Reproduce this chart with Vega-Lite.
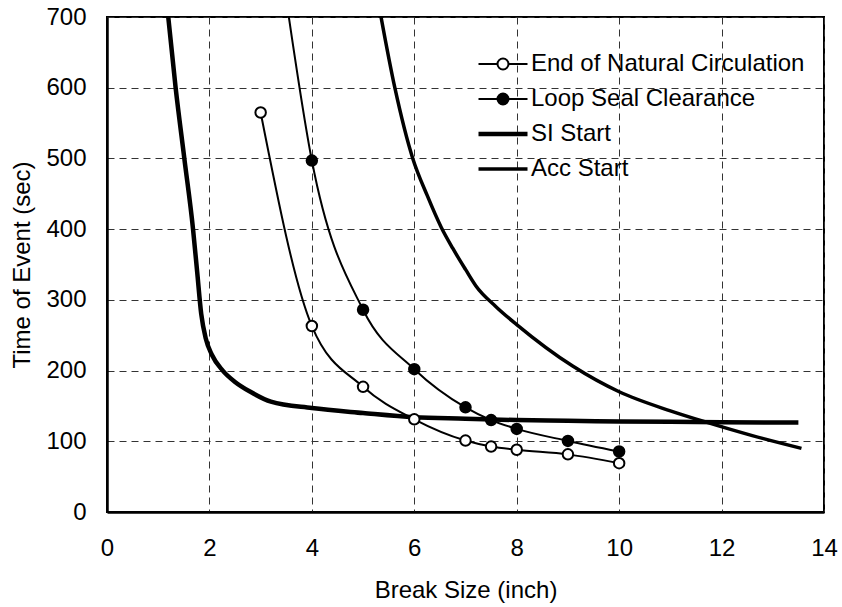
{
  "$schema": "https://vega.github.io/schema/vega-lite/v6.json",
  "autosize": {"type": "none"},
  "padding": {"left": 107, "top": 17, "right": 18, "bottom": 95},
  "width": 717,
  "height": 495,
  "background": "white",
  "config": {
    "font": "Liberation Sans",
    "view": {"stroke": "black", "strokeWidth": 2},
    "axis": {
      "domainColor": "black", "domainWidth": 2.5,
      "grid": true, "gridColor": "#333", "gridWidth": 1, "gridDash": [7, 5],
      "ticks": false, "labelFlush": false,
      "labelFont": "Liberation Sans", "labelFontSize": 24, "labelColor": "black",
      "titleFont": "Liberation Sans", "titleFontSize": 24, "titleColor": "black", "titleFontWeight": "normal"
    }
  },
  "data": {"values": [
    {"series": "End of Natural Circulation", "brk": 3, "time": 565},
    {"series": "End of Natural Circulation", "brk": 4, "time": 263},
    {"series": "End of Natural Circulation", "brk": 5, "time": 177},
    {"series": "End of Natural Circulation", "brk": 6, "time": 131},
    {"series": "End of Natural Circulation", "brk": 7, "time": 101},
    {"series": "End of Natural Circulation", "brk": 7.5, "time": 92.5},
    {"series": "End of Natural Circulation", "brk": 8, "time": 88},
    {"series": "End of Natural Circulation", "brk": 9, "time": 81.5},
    {"series": "End of Natural Circulation", "brk": 10, "time": 69},
    {"series": "Loop Seal Clearance", "brk": 3.5, "time": 725},
    {"series": "Loop Seal Clearance", "brk": 4, "time": 497},
    {"series": "Loop Seal Clearance", "brk": 5, "time": 286},
    {"series": "Loop Seal Clearance", "brk": 6, "time": 202},
    {"series": "Loop Seal Clearance", "brk": 7, "time": 148},
    {"series": "Loop Seal Clearance", "brk": 7.5, "time": 130},
    {"series": "Loop Seal Clearance", "brk": 8, "time": 117.5},
    {"series": "Loop Seal Clearance", "brk": 9, "time": 100.5},
    {"series": "Loop Seal Clearance", "brk": 10, "time": 85.5},
    {"series": "SI Start", "brk": 1.16, "time": 725},
    {"series": "SI Start", "brk": 1.34, "time": 600},
    {"series": "SI Start", "brk": 1.51, "time": 500},
    {"series": "SI Start", "brk": 1.68, "time": 400},
    {"series": "SI Start", "brk": 1.76, "time": 340},
    {"series": "SI Start", "brk": 1.84, "time": 280},
    {"series": "SI Start", "brk": 1.93, "time": 245},
    {"series": "SI Start", "brk": 2.05, "time": 222},
    {"series": "SI Start", "brk": 2.26, "time": 200},
    {"series": "SI Start", "brk": 2.5, "time": 184},
    {"series": "SI Start", "brk": 2.8, "time": 170},
    {"series": "SI Start", "brk": 3.2, "time": 156},
    {"series": "SI Start", "brk": 4, "time": 147},
    {"series": "SI Start", "brk": 5, "time": 140},
    {"series": "SI Start", "brk": 6, "time": 134},
    {"series": "SI Start", "brk": 7, "time": 132},
    {"series": "SI Start", "brk": 8, "time": 130},
    {"series": "SI Start", "brk": 9, "time": 129},
    {"series": "SI Start", "brk": 10, "time": 128},
    {"series": "SI Start", "brk": 11, "time": 127.5},
    {"series": "SI Start", "brk": 12, "time": 127},
    {"series": "SI Start", "brk": 13.5, "time": 126.5},
    {"series": "Acc Start", "brk": 5.3, "time": 720},
    {"series": "Acc Start", "brk": 5.62, "time": 600},
    {"series": "Acc Start", "brk": 5.97, "time": 500},
    {"series": "Acc Start", "brk": 6.25, "time": 448},
    {"series": "Acc Start", "brk": 6.53, "time": 402},
    {"series": "Acc Start", "brk": 6.75, "time": 373},
    {"series": "Acc Start", "brk": 7.0, "time": 343},
    {"series": "Acc Start", "brk": 7.2, "time": 320},
    {"series": "Acc Start", "brk": 7.6, "time": 290},
    {"series": "Acc Start", "brk": 8, "time": 265},
    {"series": "Acc Start", "brk": 9.1, "time": 206},
    {"series": "Acc Start", "brk": 10, "time": 170},
    {"series": "Acc Start", "brk": 11, "time": 143},
    {"series": "Acc Start", "brk": 11.7, "time": 127},
    {"series": "Acc Start", "brk": 12.6, "time": 108},
    {"series": "Acc Start", "brk": 13.56, "time": 90}
  ]},
  "encoding": {
    "x": {"field": "brk", "type": "quantitative",
      "scale": {"domain": [0, 14], "nice": false, "zero": false},
      "axis": {"values": [0, 2, 4, 6, 8, 10, 12, 14], "title": "Break Size (inch)", "labelPadding": 24, "titleBaseline": "alphabetic", "titleY": 85}},
    "y": {"field": "time", "type": "quantitative",
      "scale": {"domain": [0, 700], "nice": false},
      "axis": {"values": [0, 100, 200, 300, 400, 500, 600, 700], "title": "Time of Event (sec)", "labelPadding": 21, "titleBaseline": "alphabetic", "titleX": -78}}
  },
  "layer": [
    {
      "mark": {"type": "line", "interpolate": "monotone", "clip": true},
      "encoding": {
        "stroke": {"field": "series", "type": "nominal",
          "scale": {"domain": ["End of Natural Circulation", "Loop Seal Clearance", "SI Start", "Acc Start"], "range": ["black", "black", "black", "black"]},
          "legend": {
            "title": null, "orient": "none", "legendX": 384, "legendY": 35, "padding": 0,
            "labelFont": "Liberation Sans", "labelFontSize": 24, "labelColor": "black", "labelOffset": 16, "labelLimit": 400,
            "rowPadding": 11, "symbolSize": 100,
            "encode": {"symbols": {"update": {
              "shape": {"signal": "(datum.value === 'End of Natural Circulation' || datum.value === 'Loop Seal Clearance') ? 'M-4.9,0H-1.1M1.1,0H4.9M-1.1,0A1.1,1.1 0 1,0 1.1,0A1.1,1.1 0 1,0 -1.1,0Z' : 'M-4.9,0H4.9'"},
              "fill": {"signal": "datum.value === 'Loop Seal Clearance' ? 'black' : 'white'"},
              "stroke": {"value": "black"},
              "strokeWidth": {"signal": "datum.value === 'SI Start' ? 4.5 : (datum.value === 'Acc Start' ? 3.5 : 2)"},
              "size": {"value": 100},
              "opacity": {"value": 1},
              "fillOpacity": {"value": 1},
              "strokeOpacity": {"value": 1}
            }}}
          }},
        "strokeWidth": {
          "condition": [
            {"test": "datum.series === 'SI Start'", "value": 4.5},
            {"test": "datum.series === 'Acc Start'", "value": 3.5}
          ],
          "value": 2}
      }
    },
    {
      "transform": [{"filter": "(datum.series === 'End of Natural Circulation' || datum.series === 'Loop Seal Clearance') && datum.time <= 700"}],
      "mark": {"type": "point", "shape": "circle", "filled": true, "size": 110, "stroke": "black", "strokeWidth": 2, "opacity": 1},
      "encoding": {
        "fill": {"condition": {"test": "datum.series === 'Loop Seal Clearance'", "value": "black"}, "value": "white"}
      }
    }
  ]
}
